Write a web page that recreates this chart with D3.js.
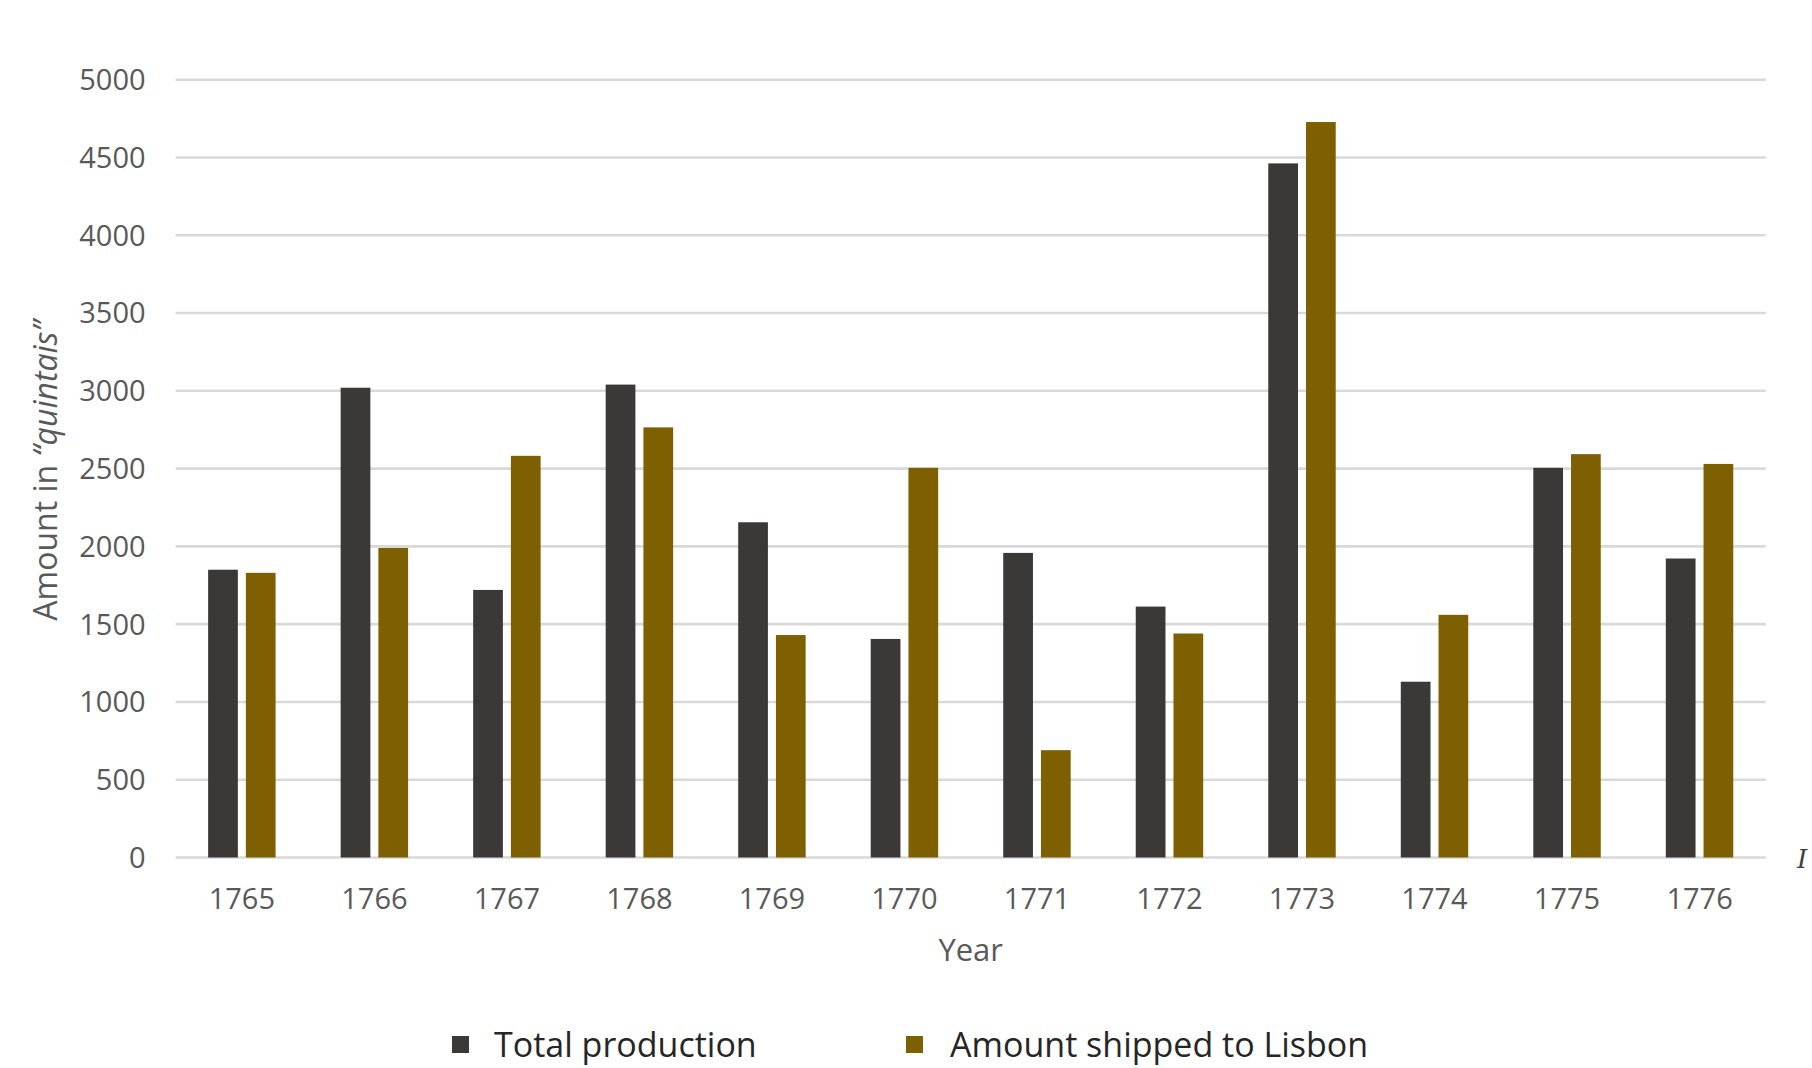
<!DOCTYPE html>
<html>
<head>
<meta charset="utf-8">
<script src="https://cdn.jsdelivr.net/npm/d3@7"></script>
<style>
  html, body { margin: 0; padding: 0; background: #ffffff; }
  svg { display: block; }
</style>
</head>
<body>
<svg id="chart" width="1812" height="1068"></svg>
<script>
// ---- data ----
const years = ["1765","1766","1767","1768","1769","1770","1771","1772","1773","1774","1775","1776"];
const totalProduction = [1850, 3020, 1720, 3040, 2155, 1405, 1958, 1613, 4462, 1130, 2505, 1922];
const shippedToLisbon = [1830, 1990, 2582, 2765, 1430, 2505, 690, 1440, 4728, 1560, 2593, 2530];
const seriesNames = ["Total production", "Amount shipped to Lisbon"];
const yTicks = [0, 500, 1000, 1500, 2000, 2500, 3000, 3500, 4000, 4500, 5000];

(function () {
// ---- layout ----
const mLeft = 175.6, mRight = 1765.8, mTop = 79.7, mBottom = 857.5;
const colors = ["#3b3838", "#7f6000"];
const textColor = "#595959";
const font = "'Open Sans', sans-serif";

const svg = d3.select("#chart");

const x0 = d3.scaleBand().domain(years).range([mLeft, mRight])
  .paddingInner(0.491).paddingOuter(0.2455);
const x1 = d3.scaleBand().domain(seriesNames).range([0, x0.bandwidth()])
  .paddingInner(0.212).paddingOuter(0);
const y = d3.scaleLinear().domain([0, 5000]).range([mBottom, mTop]);

// gridlines
svg.append("g").selectAll("line").data(yTicks).join("line")
  .attr("x1", mLeft).attr("x2", mRight)
  .attr("y1", d => y(d)).attr("y2", d => y(d))
  .attr("stroke", "#d9d9d9").attr("stroke-width", 2.6);

// y axis labels
const yAxis = d3.axisLeft(y).tickValues(yTicks).tickFormat(d3.format("d")).tickSize(0).tickPadding(0);
const gy = svg.append("g").attr("transform", `translate(${mLeft - 30},0)`).call(yAxis);
gy.select(".domain").remove();
gy.selectAll("text").attr("font-family", font).attr("font-size", 29)
  .attr("fill", textColor).attr("dy", "0.34em");

// x axis labels
const xAxis = d3.axisBottom(x0).tickSize(0).tickPadding(0);
const gx = svg.append("g").attr("transform", `translate(0,${mBottom + 31})`).call(xAxis);
gx.select(".domain").remove();
gx.selectAll("text").attr("font-family", font).attr("font-size", 29)
  .attr("fill", textColor).attr("dy", "0.71em");

// bars
const rows = years.map((yr, i) => ({ year: yr, values: [totalProduction[i], shippedToLisbon[i]] }));
const groups = svg.append("g").selectAll("g").data(rows).join("g")
  .attr("transform", d => `translate(${x0(d.year)},0)`);
groups.selectAll("rect").data(d => d.values.map((v, k) => ({ key: seriesNames[k], v, k })))
  .join("rect")
  .attr("x", d => x1(d.key))
  .attr("width", x1.bandwidth())
  .attr("y", d => y(d.v))
  .attr("height", d => y(0) - y(d.v))
  .attr("fill", d => colors[d.k]);

// axis titles
svg.append("text")
  .attr("x", (mLeft + mRight) / 2).attr("y", 961)
  .attr("text-anchor", "middle")
  .attr("font-family", font).attr("font-size", 31).attr("fill", textColor)
  .text("Year");

const yt = svg.append("text")
  .attr("transform", `translate(57,${(mTop + mBottom) / 2 + 2}) rotate(-90)`)
  .attr("text-anchor", "middle")
  .attr("font-family", font).attr("font-size", 32).attr("fill", textColor);
yt.append("tspan").text("Amount in ");
yt.append("tspan").attr("font-style", "italic").text("“quintais”");

// legend
const legendItems = [
  { name: seriesNames[0], sx: 452, tx: 494 },
  { name: seriesNames[1], sx: 906, tx: 950 }
];
const lg = svg.append("g");
legendItems.forEach((it, k) => {
  lg.append("rect").attr("x", it.sx).attr("y", 1036).attr("width", 17).attr("height", 17)
    .attr("fill", colors[k]);
  lg.append("text").attr("x", it.tx).attr("y", 1057)
    .attr("font-family", font).attr("font-size", 34).attr("fill", "#262626")
    .text(it.name);
});

// cropped fragment at right edge of source
svg.append("text").attr("x", 1797).attr("y", 868)
  .attr("font-family", "'DejaVu Serif', serif").attr("font-style", "italic")
  .attr("font-size", 26).attr("fill", "#404040").text("I");
})();
</script>
</body>
</html>
